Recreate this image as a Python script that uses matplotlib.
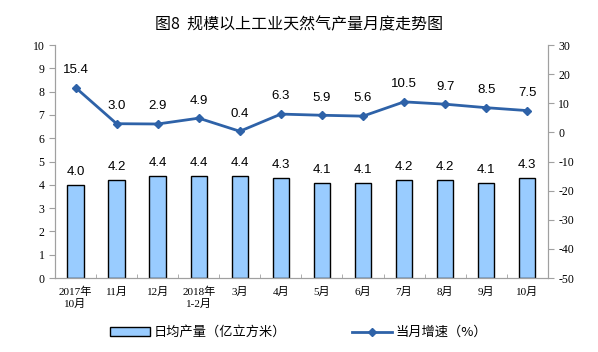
import numpy as np
import matplotlib.pyplot as plt

plt.rcParams['font.family'] = ['Noto Sans CJK SC', 'DejaVu Sans']
plt.rcParams['axes.unicode_minus'] = False

# 数据
months = ['2017年\n10月', '11月', '12月', '2018年\n1-2月', '3月', '4月',
          '5月', '6月', '7月', '8月', '9月', '10月']
daily_output = [4.0, 4.2, 4.4, 4.4, 4.4, 4.3, 4.1, 4.1, 4.2, 4.2, 4.1, 4.3]
growth = [15.4, 3.0, 2.9, 4.9, 0.4, 6.3, 5.9, 5.6, 10.5, 9.7, 8.5, 7.5]

bar_color = '#99CCFF'
line_color = '#2E62A8'
axis_color = '#A0A0A0'

fig = plt.figure(figsize=(5.98, 3.52), dpi=100)
ax = fig.add_axes([0.092, 0.21, 0.824, 0.662])
ax2 = ax.twinx()

x = np.arange(len(months))
bars = ax.bar(x, daily_output, width=0.4, color=bar_color, edgecolor='black',
              linewidth=1.0, label='日均产量（亿立方米）', zorder=2)
for xi, v in zip(x, daily_output):
    ax.text(xi, v + 0.3, f'{v:.1f}', ha='center', va='bottom', fontsize=9.5,
            family='Liberation Sans')

line, = ax2.plot(x, growth, color=line_color, linewidth=2, marker='D',
                 markersize=4, label='当月增速（%）', zorder=3)
for xi, v in zip(x, growth):
    ax2.text(xi, v + 4.0, f'{v:.1f}', ha='center', va='bottom', fontsize=9.5,
             family='Liberation Sans')

ax.set_xlim(-0.5, len(months) - 0.5)
ax.set_ylim(0, 10)
ax.set_yticks(range(0, 11))
ax2.set_ylim(-50, 30)
ax2.set_yticks(range(-50, 31, 10))

ax.set_xticks(x)
ax.set_xticklabels(months, fontsize=8, family=['Liberation Serif', 'Noto Sans CJK SC'],
                   linespacing=1.3)
ax.tick_params(axis='x', length=0, pad=6)
ax.set_xticks(np.arange(-0.5, len(months), 1), minor=True)
ax.tick_params(axis='x', which='minor', direction='in', length=3, color=axis_color)

for a in (ax, ax2):
    a.spines['top'].set_visible(False)
    for s in ('left', 'right', 'bottom'):
        a.spines[s].set_color(axis_color)
ax.tick_params(axis='y', length=4, color=axis_color, labelsize=8.5)
ax2.tick_params(axis='y', length=4, color=axis_color, labelsize=8.5)
for lab in ax.get_yticklabels() + ax2.get_yticklabels():
    lab.set_family('Liberation Serif')

fig.text(0.5, 0.905, '图8  规模以上工业天然气产量月度走势图', ha='center',
         va='bottom', fontsize=11.5, fontweight='medium')

fig.legend([bars, line], ['日均产量（亿立方米）', '当月增速（%）'],
           loc='center', bbox_to_anchor=(0.5, 0.055), ncol=2, frameon=False,
           fontsize=9.5, handlelength=3, columnspacing=5, handletextpad=0.3)

fig.savefig('out.png', dpi=100)
